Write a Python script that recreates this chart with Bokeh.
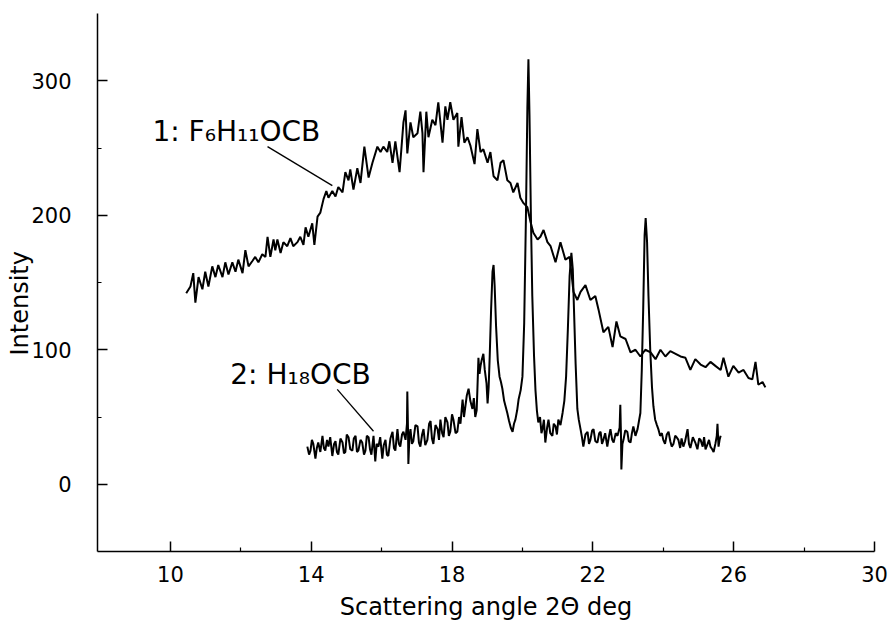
from bokeh.plotting import figure
from bokeh.models import FixedTicker, Range1d, Label, Title
from bokeh.embed import file_html
from bokeh.resources import INLINE

# ---- data ----
x_f6h11 = [10.45,10.57,10.65,10.71,10.80,10.91,10.99,11.08,11.19,11.28,11.36,11.48,11.56,11.65,11.76,11.85,11.93,12.05,12.13,12.22,
           12.33,12.41,12.50,12.61,12.70,12.76,12.84,12.93,12.98,13.04,13.13,13.21,13.32,13.41,13.49,13.61,13.69,13.78,13.84,13.92,
           14.03,14.09,14.18,14.26,14.35,14.43,14.49,14.60,14.69,14.77,14.89,14.97,15.06,15.11,15.20,15.31,15.40,15.51,15.63,15.74,
           15.88,15.97,16.05,16.16,16.22,16.31,16.39,16.51,16.62,16.68,16.73,16.82,16.90,17.02,17.10,17.16,17.19,17.27,17.33,17.44,
           17.53,17.61,17.73,17.81,17.87,17.95,18.04,18.15,18.18,18.27,18.35,18.44,18.52,18.64,18.72,18.81,18.89,19.01,19.09,19.18,
           19.29,19.38,19.46,19.57,19.66,19.74,19.86,19.94,20.03,20.14,20.23,20.31,20.43,20.51,20.60,20.71,20.80,20.94,21.08,21.22,
           21.34,21.45,21.56,21.65,21.79,21.93,22.07,22.16,22.30,22.44,22.56,22.67,22.78,22.93,23.07,23.21,23.35,23.49,23.64,23.78,
           23.92,24.06,24.20,24.35,24.49,24.63,24.77,24.91,25.06,25.20,25.34,25.48,25.63,25.71,25.85,25.99,26.14,26.28,26.42,26.53,
           26.62,26.70,26.82,26.90]
y_f6h11 = [142,147,157,135,154,145,158,147,162,154,163,154,165,156,165,158,167,157,174,162,
           166,169,165,171,169,184,169,182,174,182,172,180,177,183,177,180,184,178,191,184,
           194,178,199,202,212,218,213,218,214,221,217,232,226,234,219,235,224,251,228,239,
           251,247,251,247,255,239,255,232,269,278,246,269,258,261,277,261,232,277,258,271,
           267,284,254,281,271,284,271,276,251,273,254,258,252,238,264,247,249,239,247,229,
           226,239,241,226,224,217,224,213,209,206,195,187,182,184,189,180,177,165,180,167,
           169,143,137,143,148,137,140,130,113,117,102,121,110,108,98,100,95,100,98,93,
           100,95,99,97,95,94,85,93,89,87,91,88,85,94,80,88,83,85,79,78,
           91,74,76,72]

x_h18 = [13.89,13.94,13.98,14.02,14.06,14.12,14.16,14.20,14.26,14.32,14.36,14.40,14.45,14.49,14.54,14.60,14.65,14.69,14.73,14.77,
         14.83,14.89,14.93,14.97,15.01,15.06,15.11,15.17,15.21,15.26,15.30,15.34,15.40,15.45,15.50,15.54,15.58,15.63,15.67,15.71,
         15.77,15.82,15.86,15.91,15.96,16.02,16.06,16.11,16.15,16.19,16.25,16.31,16.35,16.39,16.45,16.49,16.53,16.58,16.62,16.68,
         16.72,16.73,16.75,16.76,16.79,16.82,16.86,16.90,16.96,17.02,17.06,17.10,17.15,17.19,17.24,17.30,17.35,17.39,17.43,17.47,
         17.53,17.59,17.63,17.67,17.72,17.76,17.81,17.87,17.91,17.95,18.00,18.04,18.10,18.15,18.20,18.24,18.30,18.34,18.38,18.42,
         18.47,18.52,18.58,18.62,18.66,18.70,18.72,18.75,18.78,18.81,18.84,18.89,18.93,18.98,19.01,19.04,19.07,19.11,19.15,19.18,
         19.21,19.25,19.30,19.35,19.39,19.43,19.48,19.52,19.57,19.62,19.67,19.72,19.76,19.80,19.85,19.89,19.95,20.00,20.05,20.10,
         20.14,20.17,20.20,20.24,20.28,20.33,20.37,20.41,20.45,20.50,20.54,20.57,20.61,20.65,20.70,20.74,20.79,20.85,20.89,20.94,
         20.98,21.02,21.08,21.14,21.19,21.24,21.29,21.34,21.39,21.43,21.47,21.51,21.56,21.60,21.65,21.69,21.73,21.79,21.85,21.89,
         21.93,21.98,22.02,22.07,22.13,22.18,22.22,22.26,22.30,22.35,22.41,22.46,22.50,22.55,22.59,22.65,22.70,22.76,22.78,22.80,
         22.81,22.84,22.87,22.92,22.98,23.02,23.07,23.11,23.15,23.21,23.27,23.31,23.35,23.39,23.43,23.47,23.50,23.54,23.58,23.63,
         23.68,23.72,23.77,23.82,23.86,23.91,23.96,24.00,24.05,24.10,24.15,24.20,24.24,24.29,24.34,24.38,24.43,24.48,24.52,24.57,
         24.62,24.69,24.73,24.77,24.84,24.91,24.97,25.02,25.06,25.12,25.16,25.20,25.26,25.30,25.34,25.39,25.43,25.48,25.52,25.54,
         25.57,25.60,25.63]
y_h18 = [28,22,25,33,30,19,27,31,24,36,27,25,33,28,35,21,30,32,24,22,
         34,31,23,24,37,35,26,25,34,36,24,25,33,31,22,25,36,35,26,22,
         36,17,30,28,35,19,29,33,22,21,34,39,27,25,41,30,28,37,39,33,
         45,69,40,15,36,41,30,32,44,43,31,28,37,41,29,33,45,47,34,30,
         44,41,33,48,38,35,50,46,36,39,52,48,38,39,50,45,63,50,58,66,
         71,62,56,64,50,55,70,94,82,88,92,97,85,75,60,72,95,130,158,163,
         148,118,92,80,76,71,62,58,53,47,42,39,45,48,55,63,70,80,120,200,
         280,316,275,200,140,95,70,55,46,50,38,41,48,31,42,48,38,36,45,43,
         37,48,44,53,62,80,115,155,172,160,125,90,56,48,41,35,28,37,39,30,
         33,40,41,32,31,38,39,30,33,38,28,36,41,33,31,38,36,42,59,35,
         11,30,33,40,39,32,31,38,43,36,41,47,53,85,130,185,198,180,140,100,
         72,58,48,44,41,36,38,33,30,37,39,32,28,30,36,35,33,27,34,28,
         32,41,30,27,35,31,26,34,33,28,35,26,30,33,28,26,24,30,36,45,
         28,33,36]

x_ticks = [10, 14, 18, 22, 26, 30]
x_minor = [12, 16, 20, 24, 28]
y_ticks = [0, 100, 200, 300]
y_minor = [50, 150, 250]

label_1 = "1: F\u2086H\u2081\u2081OCB"
label_2 = "2: H\u2081\u2088OCB"
x_title = "Scattering angle 2\u0398 deg"
y_title = "Intensity"

FONT = "DejaVu Sans"

p = figure(width=889, height=625, output_backend="svg", toolbar_location=None, title=None,
           x_range=Range1d(7.93, 30), y_range=Range1d(-50, 350),
           min_border_left=97, min_border_right=15, min_border_top=13, min_border_bottom=74)
p.outline_line_color = None
p.grid.visible = False
p.background_fill_color = "white"
p.border_fill_color = "white"

for ax in (p.xaxis[0], p.yaxis[0]):
    ax.axis_line_color = "black"
    ax.axis_line_width = 1.5
    ax.major_tick_in = 10
    ax.major_tick_out = 0
    ax.minor_tick_in = 4
    ax.minor_tick_out = 0
    ax.major_tick_line_color = "black"
    ax.minor_tick_line_color = "black"
    ax.major_tick_line_width = 1.5
    ax.minor_tick_line_width = 1.2
    ax.major_label_text_font = FONT
    ax.major_label_text_font_size = "21px"
    ax.major_label_text_color = "black"
    ax.axis_label_text_font = FONT
    ax.axis_label_text_font_size = "24px"
    ax.axis_label_text_font_style = "normal"
    ax.axis_label_text_color = "black"

p.xaxis[0].ticker = FixedTicker(ticks=x_ticks, minor_ticks=x_minor)
p.yaxis[0].ticker = FixedTicker(ticks=y_ticks, minor_ticks=y_minor)
p.xaxis[0].axis_label = x_title
p.xaxis[0].major_label_standoff = 14
p.xaxis[0].axis_label_standoff = 8
p.yaxis[0].major_label_standoff = 26

# vertical axis title as a side title (allows shifting it along the axis)
p.add_layout(Title(text=y_title, align="left", offset=196, standoff=-10,
                   text_font=FONT, text_font_size="24px", text_font_style="normal",
                   text_color="black"), "left")

p.line(x_f6h11, y_f6h11, line_color="black", line_width=2)
p.line(x_h18, y_h18, line_color="black", line_width=2)

# leader lines from the labels to the curves
p.segment(x0=[12.76, 14.74], y0=[251, 70.5], x1=[14.60, 15.77], y1=[222, 39.4],
          line_color="black", line_width=1.3)

for txt, lx, ly in ((label_1, 9.49, 262), (label_2, 11.70, 81.7)):
    p.add_layout(Label(x=lx, y=ly, text=txt, text_font=FONT, text_font_size="28px",
                       text_color="black", text_baseline="alphabetic", text_align="left"))

open("out.html", "w").write(file_html(p, INLINE))
